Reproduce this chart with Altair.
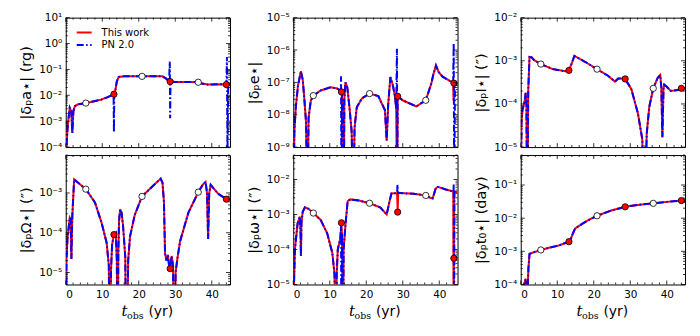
import math
import altair as alt
import pandas as pd

W, H = 165, 130

x_major = [0, 10, 20, 30, 40]
x_minor = [2, 4, 6, 8, 12, 14, 16, 18, 22, 24, 26, 28, 32, 34, 36, 38, 42, 44]
legend_labels = ["This work", "PN 2.0"]
x_title_parts = ["t", "obs", "(yr)"]

t_markers = [5.5, 13.2, 20.9, 28.6, 36.3, 44.0]
marker_kind = ["open", "filled", "open", "filled", "open", "filled"]

# ---- |δp a*| (rg)
a_t = [0.0, 0.3, 0.6, 1.1, 1.5, 1.8, 2.1, 2.5, 3.4, 5.5, 7.5, 9.7, 11.5, 12.5, 13.2, 13.6, 14.0, 14.5, 16.0, 20.9,
       26.5, 27.5, 28.3, 28.6, 30.0, 34.0, 36.3, 37.0, 38.9, 42.5, 44.0, 45.0]
a_red = [1e-6, 2e-4, 8e-4, 3.3e-3, 2.5e-3, 3.5e-4, 2.5e-3, 3.8e-3, 4.5e-3, 5.0e-3, 5.8e-3, 6.8e-3, 8.5e-3, 1.0e-2,
         1.1e-2, 1.6e-2, 3.5e-2, 5.1e-2, 5.4e-2, 5.4e-2, 5.4e-2, 4.4e-2, 3.5e-2, 3.4e-2, 3.3e-2, 3.3e-2, 3.2e-2,
         2.9e-2, 2.6e-2, 2.7e-2, 2.6e-2, 2.6e-2]
a_pn_t = [0.0, 0.3, 0.6, 1.1, 1.5, 1.8, 2.1, 2.5, 3.4, 5.5, 7.5, 9.7, 11.5, 12.5, 13.1, 13.2, 13.3, 13.6, 14.0, 14.5,
          16.0, 20.9, 26.5, 27.5, 28.3, 28.5, 28.6, 28.7, 30.0, 34.0, 36.3, 37.0, 38.9, 42.5, 44.0, 44.15, 44.3, 44.5,
          45.0]
a_pn = [1e-6, 2e-4, 8e-4, 3.3e-3, 2.5e-3, 3.5e-4, 2.5e-3, 3.8e-3, 4.5e-3, 5.0e-3, 5.8e-3, 6.8e-3, 8.5e-3, 1.0e-2,
        1.1e-2, 3.8e-4, 1.2e-2, 1.6e-2, 3.5e-2, 5.1e-2, 5.4e-2, 5.4e-2, 5.4e-2, 4.4e-2, 3.5e-2, 0.2, 1.3e-3, 3.4e-2,
        3.3e-2, 3.3e-2, 3.2e-2, 2.9e-2, 2.6e-2, 2.7e-2, 2.6e-2, 0.3, 5e-5, 2.6e-2, 2.6e-2]
a_mark = [5.0e-3, 1.1e-2, 5.4e-2, 3.4e-2, 3.2e-2, 2.6e-2]

# ---- |δp e*|
e_t = [0.0, 0.3, 0.7, 1.3, 2.1, 2.6, 3.0, 3.5, 3.9, 4.2, 4.8, 5.5, 7.5, 10.2, 12.0, 13.2, 13.6, 13.85, 14.0, 14.3,
       14.8, 15.4, 16.0, 16.4, 16.8, 17.4, 18.8, 20.9, 23.3, 25.1, 25.6, 26.0, 26.6, 27.3, 27.9, 28.2, 28.45, 28.6,
       30.1, 33.7, 36.3, 37.8, 38.4, 39.1, 39.8, 40.9, 43.0, 43.8, 43.9, 44.0, 45.0]
e_red = [1e-12, 3e-9, 1.7e-8, 8e-8, 2.2e-7, 1.2e-7, 3.5e-8, 6e-9, 1e-11, 8e-9, 2.7e-8, 3.9e-8, 5.6e-8, 7e-8, 6.5e-8,
         5.1e-8, 2e-8, 1e-11, 3e-8, 1e-7, 7e-8, 1.7e-8, 3e-9, 1e-11, 4e-9, 1.7e-8, 3.2e-8, 4.5e-8, 3.8e-8, 1.4e-8,
         1.6e-9, 2e-8, 1.45e-7, 8e-8, 3.5e-8, 1.5e-8, 1e-11, 3.7e-8, 2.75e-8, 1.8e-8, 2.8e-8, 9e-8, 1.8e-7, 3.3e-7,
         2.1e-7, 1.5e-7, 1.1e-7, 1e-7, 2.75e-8, 9.5e-8, 9e-8]
e_pn_t = [0.0, 0.3, 0.7, 1.3, 2.1, 2.6, 3.0, 3.5, 3.9, 4.2, 4.8, 5.5, 7.5, 10.2, 12.0, 13.0, 13.1, 13.2, 13.35, 13.6,
          13.85, 14.0, 14.3, 14.8, 15.4, 16.0, 16.4, 16.8, 17.4, 18.8, 20.9, 23.3, 25.1, 25.6, 26.0, 26.6, 27.3, 27.9,
          28.2, 28.4, 28.5, 28.6, 30.1, 33.7, 36.3, 37.8, 38.4, 39.1, 39.8, 40.9, 43.0, 43.8, 43.95, 44.1, 44.3, 45.0]
e_pn = [1e-12, 3e-9, 1.7e-8, 8e-8, 2.2e-7, 1.2e-7, 3.5e-8, 6e-9, 1e-11, 8e-9, 2.7e-8, 3.9e-8, 5.6e-8, 7e-8, 6.5e-8,
        5.5e-8, 1.55e-7, 1e-11, 4.5e-8, 2e-8, 1e-11, 3e-8, 1e-7, 7e-8, 1.7e-8, 3e-9, 1e-11, 4e-9, 1.7e-8, 3.2e-8,
        4.5e-8, 3.8e-8, 1.4e-8, 1.6e-9, 2e-8, 1.45e-7, 8e-8, 3.5e-8, 1.5e-8, 1.1e-6, 1e-11, 3.7e-8, 2.75e-8, 1.8e-8,
        2.8e-8, 9e-8, 1.8e-7, 3.3e-7, 2.1e-7, 1.5e-7, 1.1e-7, 1e-7, 1.6e-6, 1e-11, 9.5e-8, 9e-8]
e_mark = [3.9e-8, 5.1e-8, 4.5e-8, 3.7e-8, 2.8e-8, 9.5e-8]

# ---- |δp I*| (")
i_t = [0.0, 0.2, 0.45, 1.1, 1.35, 1.55, 1.8, 2.05, 2.4, 3.0, 3.6, 5.5, 8.6, 12.2, 13.2, 13.8, 14.7, 17.6, 20.9, 23.9,
       25.8, 26.7, 27.8, 28.6, 30.3, 32.1, 33.3, 33.9, 34.5, 35.2, 36.3, 37.5, 38.2, 38.5, 38.8, 39.1, 39.3, 40.0,
       41.1, 43.0, 44.0, 45.0]
i_red = [1e-7, 4e-5, 7e-5, 1.2e-4, 1.8e-4, 1e-4, 1e-7, 2e-4, 1.23e-3, 1.2e-3, 1.05e-3, 8.4e-4, 6.5e-4, 5.7e-4,
         6.0e-4, 8e-4, 1.3e-3, 9.5e-4, 6.4e-4, 4.5e-4, 3.3e-4, 3.9e-4, 3.9e-4, 3.8e-4, 2.2e-4, 6e-5, 1.5e-5, 1e-7,
         2e-5, 8.5e-5, 2.3e-4, 4e-4, 4.7e-4, 2.5e-4, 1.7e-5, 2.2e-4, 2.8e-4, 2.5e-4, 2.0e-4, 2.1e-4, 2.3e-4, 2.3e-4]
i_pn_t = i_t
i_pn = i_red
i_mark = [8.4e-4, 6.0e-4, 6.4e-4, 3.8e-4, 2.3e-4, 2.3e-4]

# ---- |δp Ω*| (")
o_t = [0.0, 0.2, 0.46, 1.1, 1.35, 1.55, 1.8, 2.3, 3.4, 5.5, 8.0, 9.8, 11.2, 11.8, 12.1, 12.4, 12.7, 13.2, 13.7, 14.0,
       14.2, 14.4, 14.6, 14.9, 15.3, 15.7, 16.3, 16.7, 17.1, 17.6, 18.9, 20.9, 23.5, 26.0, 26.5, 26.9, 27.2, 27.6,
       28.0, 28.3, 28.6, 29.0, 29.4, 29.7, 30.1, 30.5, 31.3, 33.6, 36.3, 37.5, 38.3, 38.7, 39.0, 39.3, 39.7, 40.5,
       41.8, 44.0, 45.0]
o_red = [1e-8, 2e-5, 7e-5, 2.4e-4, 2.2e-4, 2.2e-5, 2.7e-4, 2.2e-3, 1.8e-3, 1.25e-3, 5.8e-4, 1.8e-4, 5.6e-5, 1.5e-5,
         1e-8, 1.2e-5, 5e-5, 9e-5, 1e-4, 2e-5, 1e-8, 3e-5, 2e-4, 3.9e-4, 3.2e-4, 1.5e-4, 2.5e-5, 1e-8, 2e-5, 8e-5,
         2.8e-4, 8.2e-4, 1.4e-3, 2.3e-3, 1.8e-3, 6e-4, 3e-5, 2e-5, 2.8e-5, 1.5e-5, 1.25e-5, 2.6e-5, 1.5e-5, 1e-8,
         1e-5, 2e-5, 6e-5, 3.2e-4, 1.05e-3, 1.6e-3, 1.9e-3, 1e-3, 7e-5, 1e-3, 1.6e-3, 1.3e-3, 9.5e-4, 7e-4, 6.8e-4]
o_pn_t = o_t
o_pn = o_red
o_mark = [1.25e-3, 9e-5, 8.2e-4, 1.25e-5, 1.05e-3, 7e-4]

# ---- |δp ω*| (")
w_t = [0.0, 0.2, 0.45, 1.2, 1.8, 2.0, 2.1, 2.25, 2.6, 3.2, 4.2, 5.5, 7.5, 9.3, 10.7, 11.3, 11.6, 11.9, 12.2, 12.9,
       13.2, 13.4, 13.6, 13.8, 14.3, 14.9, 15.6, 18.0, 20.9, 23.8, 25.6, 26.3, 26.9, 28.45, 28.6, 28.75, 29.2, 33.0,
       36.3, 37.5, 38.2, 39.0, 39.6, 41.8, 43.6, 43.85, 43.95, 44.0, 44.1, 45.0]
w_red = [1e-8, 1e-5, 1e-4, 5.6e-4, 8.7e-4, 3e-4, 6.5e-5, 6e-4, 1.2e-3, 1.6e-3, 1.45e-3, 1.1e-3, 7e-4, 2.9e-4, 8e-5,
         2e-5, 1e-8, 2e-5, 1e-4, 2.1e-4, 5.8e-4, 2e-4, 1e-8, 1e-4, 5e-4, 2.4e-3, 2.7e-3, 2.5e-3, 2.1e-3, 1.6e-3,
         1.0e-3, 2.2e-3, 4e-3, 4.1e-3, 1.17e-3, 4.1e-3, 4.1e-3, 3.9e-3, 3.5e-3, 3.0e-3, 2.9e-3, 5.5e-3, 6.2e-3,
         5.2e-3, 4.6e-3, 4.5e-3, 1e-8, 5.6e-5, 4.5e-3, 4.4e-3]
w_pn_t = [0.0, 0.2, 0.45, 1.2, 1.8, 2.0, 2.1, 2.25, 2.6, 3.2, 4.2, 5.5, 7.5, 9.3, 10.7, 11.3, 11.6, 11.9, 12.2, 12.9,
          13.1, 13.2, 13.35, 13.6, 13.8, 14.3, 14.9, 15.6, 18.0, 20.9, 23.8, 25.6, 26.3, 26.9, 28.45, 28.55, 28.7,
          29.2, 33.0, 36.3, 37.5, 38.2, 39.0, 39.6, 41.8, 43.6, 43.9, 43.95, 44.05, 44.15, 45.0]
w_pn = [1e-8, 1e-5, 1e-4, 5.6e-4, 8.7e-4, 3e-4, 6.5e-5, 6e-4, 1.2e-3, 1.6e-3, 1.45e-3, 1.1e-3, 7e-4, 2.9e-4, 8e-5,
        2e-5, 1e-8, 2e-5, 1e-4, 2.1e-4, 5e-4, 1e-8, 3e-4, 1e-8, 1e-4, 5e-4, 2.4e-3, 2.7e-3, 2.5e-3, 2.1e-3, 1.6e-3,
        1.0e-3, 2.2e-3, 4e-3, 4.1e-3, 7e-3, 4.1e-3, 4.1e-3, 3.9e-3, 3.5e-3, 3.0e-3, 2.9e-3, 5.5e-3, 6.2e-3, 5.2e-3,
        4.6e-3, 4.5e-3, 7.2e-3, 1e-8, 4.5e-3, 4.4e-3]
w_mark = [1.1e-3, 5.8e-4, 2.1e-3, 1.17e-3, 3.5e-3, 5.6e-5]

# ---- |δp t0*| (day)
z_t = [0.0, 0.9, 1.35, 1.55, 1.7, 1.85, 2.1, 2.4, 3.2, 5.5, 8.0, 10.4, 13.2, 13.8, 14.3, 14.9, 16.7, 18.5, 20.9, 24.8,
       28.6, 32.0, 36.3, 40.0, 44.0, 45.0]
z_red = [1e-7, 1e-4, 1.5e-4, 5e-5, 1e-7, 5e-5, 3e-4, 8.3e-4, 9.1e-4, 1.1e-3, 1.3e-3, 1.5e-3, 1.95e-3, 2.5e-3,
         3.5e-3, 4.9e-3, 6.6e-3, 8.7e-3, 1.18e-2, 1.7e-2, 2.2e-2, 2.5e-2, 2.8e-2, 3.1e-2, 3.4e-2, 3.4e-2]
z_pn_t = z_t
z_pn = z_red
z_mark = [1.1e-3, 1.95e-3, 1.18e-2, 2.2e-2, 2.8e-2, 3.4e-2]

SUP = ("'10' + (round(log(datum.value)/LN10) < 0 ? '⁻' : '') + "
       "substring('⁰¹²³⁴⁵⁶⁷⁸⁹', abs(round(log(datum.value)/LN10)), abs(round(log(datum.value)/LN10)) + 1)")

PN_DASH = [7, 2.5, 1.5, 2.5]


def log_ticks(lo, hi):
    majors, minors = [], []
    for k in range(math.floor(math.log10(lo)) - 1, math.ceil(math.log10(hi)) + 1):
        base = 10.0 ** k
        if lo * 0.999 <= base <= hi * 1.001:
            majors.append(base)
        for m in range(2, 10):
            v = m * base
            if lo * 0.999 <= v <= hi * 1.001:
                minors.append(v)
    return majors, minors


def panel(t_red, v_red, t_pn, v_pn, v_mark, domain, title, bottom, legend=False):
    lo, hi = domain
    majors, minors = log_ticks(lo, hi)
    ysc = alt.Scale(type="log", domain=[lo, hi], nice=False)
    xsc = alt.Scale(domain=[0, 45], nice=False, zero=False)
    yax = alt.Axis(values=majors, labelExpr=SUP, ticks=False, domain=False, grid=False, title=title,
                   minExtent=27, maxExtent=27, labelPadding=4, titlePadding=5)
    if bottom:
        xax = alt.Axis(values=x_major, format="d", ticks=False, domain=False, grid=False, title=None,
                       labelPadding=5)
    else:
        xax = None

    def X():
        return alt.X("t:Q", scale=xsc, axis=xax)

    def Y():
        return alt.Y("v:Q", scale=ysc, axis=yax)

    df_red = pd.DataFrame({"t": t_red, "v": v_red, "i": range(len(t_red))})
    df_pn = pd.DataFrame({"t": t_pn, "v": v_pn, "i": range(len(t_pn))})
    df_m = pd.DataFrame({"t": t_markers, "v": v_mark, "kind": marker_kind})

    red = alt.Chart(df_red).mark_line(color="#ff0000", strokeWidth=2, clip=True).encode(
        x=X(), y=Y(), order="i:Q")
    blue = alt.Chart(df_pn).mark_line(color="#0000ff", strokeWidth=2, strokeDash=PN_DASH, clip=True).encode(
        x=X(), y=Y(), order="i:Q")
    pts = alt.Chart(df_m).mark_circle(size=40, stroke="black", strokeWidth=0.8, opacity=1).encode(
        x=X(), y=Y(),
        color=alt.Color("kind:N", scale=alt.Scale(domain=["open", "filled"], range=["white", "#ff0000"]),
                        legend=None))
    layers = [red, blue, pts]

    def yrule(vals, a, b):
        return alt.Chart(pd.DataFrame({"v": vals})).mark_rule(color="black", strokeWidth=0.8).encode(
            y=Y(), x=alt.value(a), x2=alt.value(b))

    def xrule(vals, a, b):
        return alt.Chart(pd.DataFrame({"t": vals})).mark_rule(color="black", strokeWidth=0.8).encode(
            x=X(), y=alt.value(a), y2=alt.value(b))

    layers += [yrule(majors, 0, 4), yrule(majors, W - 4, W)]
    if minors:
        layers += [yrule(minors, 0, 2), yrule(minors, W - 2, W)]
    layers += [xrule(x_major, H - 4, H), xrule(x_major, 0, 4), xrule(x_minor, H - 2, H), xrule(x_minor, 0, 2)]

    if bottom:
        td = pd.DataFrame({"t_": [x_title_parts[0]], "s_": [x_title_parts[1]], "u_": [x_title_parts[2]]})
        layers.append(alt.Chart(td).mark_text(align="left", baseline="alphabetic", fontSize=15, fontStyle="italic",
                                              font="DejaVu Serif", color="black").encode(
            x=alt.value(56), y=alt.value(H + 32), text="t_:N"))
        layers.append(alt.Chart(td).mark_text(align="left", baseline="alphabetic", fontSize=9.5,
                                              font="DejaVu Serif", color="black").encode(
            x=alt.value(61.5), y=alt.value(H + 35), text="s_:N"))
        layers.append(alt.Chart(td).mark_text(align="left", baseline="alphabetic", fontSize=14,
                                              font="DejaVu Sans", color="black").encode(
            x=alt.value(83), y=alt.value(H + 32), text="u_:N"))

    if legend:
        for k, (lab, col, dash) in enumerate([(legend_labels[0], "#ff0000", [1, 0]),
                                              (legend_labels[1], "#0000ff", PN_DASH)]):
            ld = pd.DataFrame({"label": [lab]})
            yy = 15 + 12.5 * k
            layers.append(alt.Chart(ld).mark_rule(color=col, strokeWidth=2, strokeDash=dash).encode(
                x=alt.value(11), x2=alt.value(26), y=alt.value(yy)))
            layers.append(alt.Chart(ld).mark_text(align="left", baseline="middle", fontSize=10,
                                                  font="DejaVu Sans", color="black").encode(
                x=alt.value(36), y=alt.value(yy), text="label:N"))

    return alt.layer(*layers).properties(width=W, height=H)


charts = [
    panel(a_t, a_red, a_pn_t, a_pn, a_mark, [1e-4, 10], "|δₚa⋆| (rg)", False, legend=True),
    panel(e_t, e_red, e_pn_t, e_pn, e_mark, [1e-9, 1e-5], "|δₚe⋆|", False),
    panel(i_t, i_red, i_pn_t, i_pn, i_mark, [1e-5, 1e-2], "|δₚI⋆| (″)", False),
    panel(o_t, o_red, o_pn_t, o_pn, o_mark, [5e-6, 9e-3], "|δₚΩ⋆| (″)", True),
    panel(w_t, w_red, w_pn_t, w_pn, w_mark, [1e-5, 5e-2], "|δₚω⋆| (″)", True),
    panel(z_t, z_red, z_pn_t, z_pn, z_mark, [1e-4, 0.8], "|δₚt₀⋆| (day)", True),
]

chart = alt.ConcatChart(concat=charts, columns=3, spacing={"row": 8, "column": 63.5}, bounds="flush")
chart = chart.properties(padding={"left": 10, "top": 3, "right": 5, "bottom": 5}).configure(
    font="DejaVu Sans").configure_view(stroke="black", strokeWidth=1).configure_axis(
    labelFont="DejaVu Sans", titleFont="DejaVu Sans", labelFontSize=10.5, titleFontSize=14.5,
    labelColor="black", titleColor="black", titleFontWeight="normal")

chart.save("out.html", embed_options={"renderer": "svg", "actions": False})
